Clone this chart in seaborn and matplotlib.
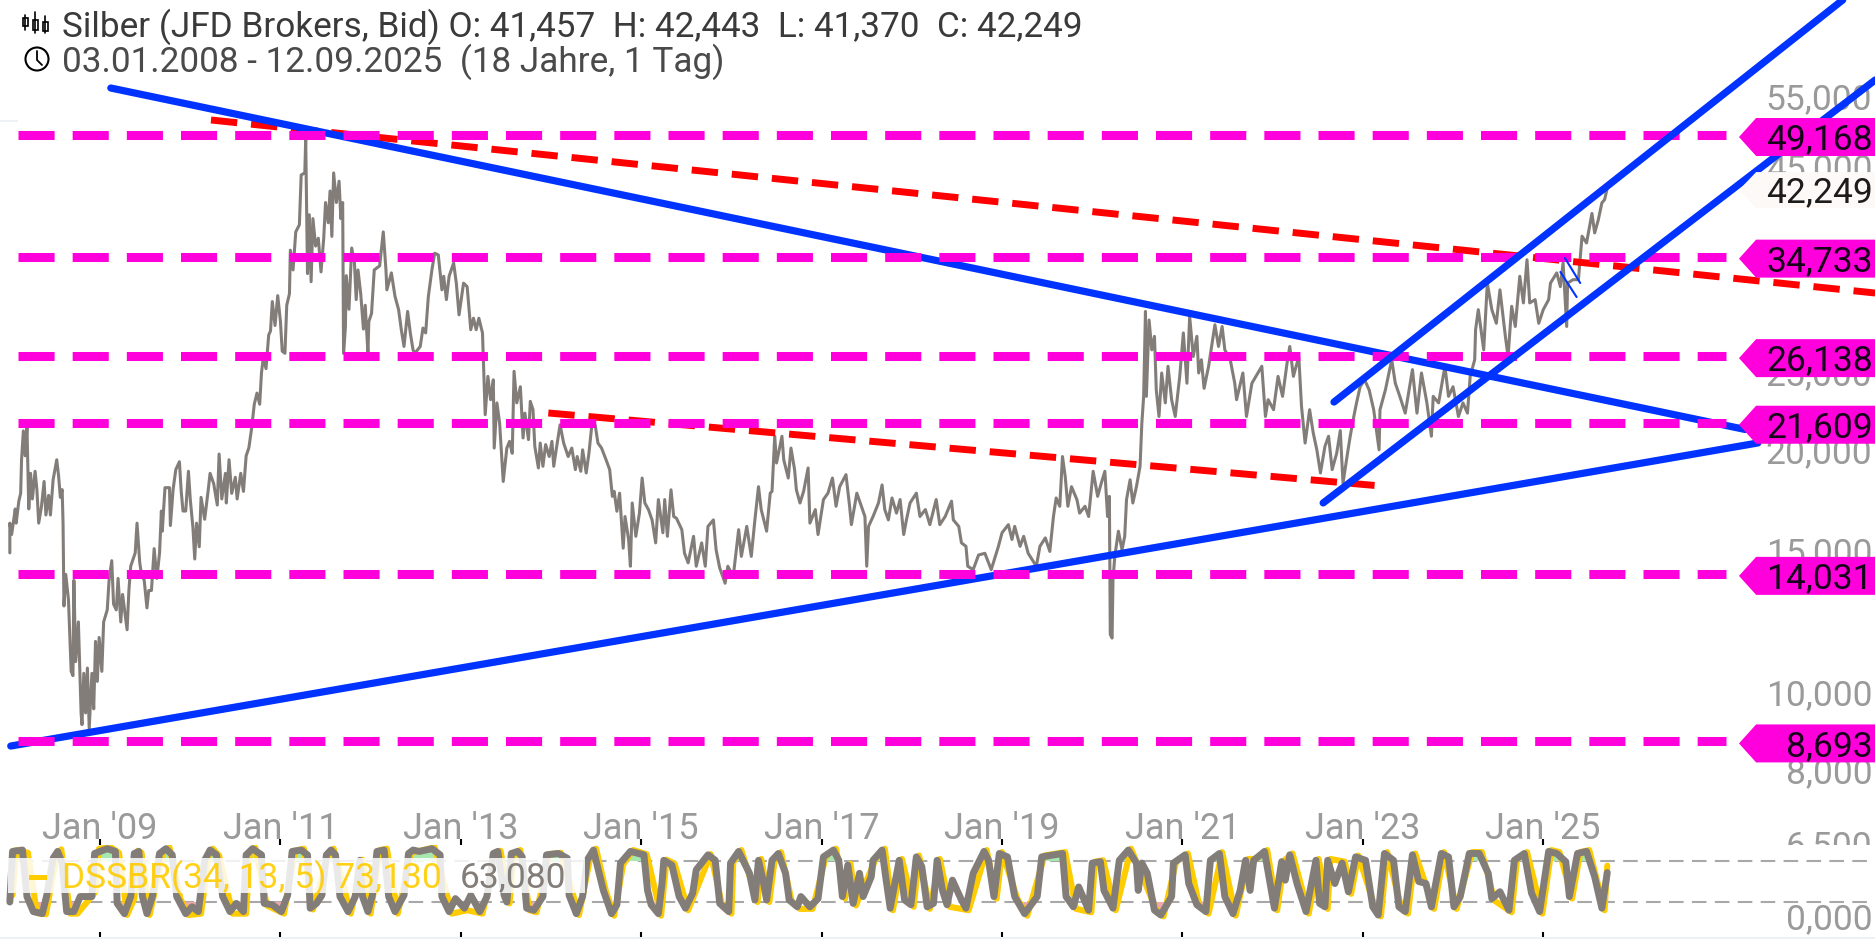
import numpy as np
import pandas as pd
import seaborn as sns
import matplotlib.pyplot as plt
from matplotlib.patches import Polygon, Rectangle, Ellipse
from matplotlib.lines import Line2D
from matplotlib.ticker import NullLocator

# Silber Tageschart, Werte
price_year = [
    2008.00, 2008.00, 2008.02, 2008.06, 2008.07, 2008.10, 2008.12, 2008.13, 2008.15, 2008.17, 2008.19, 2008.21, 2008.23, 2008.25, 2008.28, 2008.30,
    2008.32, 2008.35, 2008.38, 2008.40, 2008.43, 2008.45, 2008.48, 2008.52, 2008.54, 2008.56, 2008.58, 2008.59, 2008.60, 2008.62, 2008.65, 2008.68,
    2008.70, 2008.71, 2008.73, 2008.76, 2008.79, 2008.80, 2008.82, 2008.84, 2008.86, 2008.88, 2008.91, 2008.93, 2008.95, 2008.97, 2008.99, 2009.02,
    2009.04, 2009.08, 2009.10, 2009.13, 2009.15, 2009.18, 2009.20, 2009.23, 2009.25, 2009.30, 2009.32, 2009.34, 2009.39, 2009.41, 2009.44, 2009.46,
    2009.49, 2009.52, 2009.54, 2009.57, 2009.60, 2009.63, 2009.66, 2009.68, 2009.69, 2009.72, 2009.77, 2009.78, 2009.81, 2009.84, 2009.88, 2009.90,
    2009.92, 2009.95, 2009.98, 2010.00, 2010.03, 2010.05, 2010.07, 2010.10, 2010.12, 2010.16, 2010.20, 2010.22, 2010.26, 2010.30, 2010.32, 2010.35,
    2010.39, 2010.40, 2010.43, 2010.46, 2010.50, 2010.52, 2010.56, 2010.59, 2010.62, 2010.65, 2010.68, 2010.71, 2010.74, 2010.77, 2010.79, 2010.81,
    2010.84, 2010.87, 2010.89, 2010.91, 2010.94, 2010.97, 2011.00, 2011.02, 2011.05, 2011.07, 2011.10, 2011.11, 2011.14, 2011.17, 2011.21, 2011.23,
    2011.27, 2011.28, 2011.30, 2011.32, 2011.34, 2011.36, 2011.39, 2011.42, 2011.45, 2011.48, 2011.50, 2011.53, 2011.55, 2011.57, 2011.59, 2011.62,
    2011.65, 2011.67, 2011.69, 2011.70, 2011.72, 2011.73, 2011.76, 2011.79, 2011.82, 2011.84, 2011.86, 2011.89, 2011.92, 2011.94, 2011.97, 2011.98,
    2012.01, 2012.04, 2012.10, 2012.14, 2012.17, 2012.18, 2012.23, 2012.27, 2012.31, 2012.34, 2012.37, 2012.41, 2012.44, 2012.47, 2012.49, 2012.55,
    2012.58, 2012.61, 2012.64, 2012.68, 2012.71, 2012.75, 2012.79, 2012.81, 2012.84, 2012.87, 2012.92, 2012.95, 2012.98, 2013.03, 2013.07, 2013.11,
    2013.14, 2013.17, 2013.20, 2013.24, 2013.27, 2013.30, 2013.33, 2013.36, 2013.37, 2013.40, 2013.43, 2013.47, 2013.51, 2013.54, 2013.57, 2013.59,
    2013.62, 2013.66, 2013.69, 2013.71, 2013.75, 2013.77, 2013.80, 2013.82, 2013.86, 2013.88, 2013.91, 2013.94, 2013.98, 2014.01, 2014.03, 2014.06,
    2014.10, 2014.14, 2014.19, 2014.23, 2014.27, 2014.29, 2014.33, 2014.35, 2014.39, 2014.42, 2014.45, 2014.49, 2014.52, 2014.56, 2014.61, 2014.65,
    2014.68, 2014.70, 2014.73, 2014.76, 2014.80, 2014.82, 2014.86, 2014.88, 2014.90, 2014.94, 2014.98, 2015.01, 2015.04, 2015.08, 2015.12, 2015.16,
    2015.19, 2015.24, 2015.26, 2015.29, 2015.33, 2015.36, 2015.39, 2015.45, 2015.48, 2015.52, 2015.58, 2015.61, 2015.67, 2015.71, 2015.74, 2015.80,
    2015.83, 2015.87, 2015.93, 2015.96, 2016.02, 2016.08, 2016.11, 2016.17, 2016.22, 2016.26, 2016.30, 2016.33, 2016.39, 2016.43, 2016.45, 2016.48,
    2016.50, 2016.56, 2016.58, 2016.63, 2016.66, 2016.70, 2016.72, 2016.76, 2016.80, 2016.85, 2016.87, 2016.93, 2016.96, 2017.02, 2017.07, 2017.12,
    2017.16, 2017.20, 2017.27, 2017.31, 2017.33, 2017.39, 2017.44, 2017.48, 2017.50, 2017.52, 2017.57, 2017.63, 2017.67, 2017.70, 2017.74, 2017.78,
    2017.83, 2017.87, 2017.91, 2017.94, 2017.98, 2018.05, 2018.09, 2018.15, 2018.20, 2018.27, 2018.31, 2018.37, 2018.44, 2018.46, 2018.52, 2018.55,
    2018.60, 2018.62, 2018.68, 2018.74, 2018.81, 2018.88, 2018.96, 2019.00, 2019.07, 2019.11, 2019.14, 2019.20, 2019.24, 2019.29, 2019.38, 2019.42,
    2019.48, 2019.53, 2019.57, 2019.60, 2019.64, 2019.67, 2019.70, 2019.73, 2019.77, 2019.83, 2019.86, 2019.92, 2019.96, 2020.01, 2020.06, 2020.10,
    2020.14, 2020.17, 2020.19, 2020.20, 2020.22, 2020.23, 2020.25, 2020.29, 2020.33, 2020.36, 2020.38, 2020.42, 2020.45, 2020.49, 2020.53, 2020.55,
    2020.57, 2020.59, 2020.60, 2020.63, 2020.66, 2020.69, 2020.71, 2020.74, 2020.77, 2020.81, 2020.84, 2020.88, 2020.92, 2020.97, 2021.01, 2021.05,
    2021.08, 2021.12, 2021.16, 2021.18, 2021.21, 2021.24, 2021.29, 2021.36, 2021.40, 2021.44, 2021.47, 2021.53, 2021.58, 2021.60, 2021.67, 2021.71,
    2021.77, 2021.88, 2021.92, 2021.95, 2022.01, 2022.06, 2022.11, 2022.16, 2022.19, 2022.23, 2022.29, 2022.32, 2022.36, 2022.41, 2022.45, 2022.49,
    2022.53, 2022.58, 2022.62, 2022.66, 2022.71, 2022.75, 2022.78, 2022.83, 2022.86, 2022.90, 2022.93, 2022.97, 2023.02, 2023.07, 2023.12, 2023.18,
    2023.19, 2023.25, 2023.32, 2023.36, 2023.41, 2023.47, 2023.55, 2023.60, 2023.65, 2023.71, 2023.76, 2023.78, 2023.84, 2023.91, 2023.95, 2024.00,
    2024.06, 2024.11, 2024.16, 2024.19, 2024.24, 2024.25, 2024.28, 2024.34, 2024.38, 2024.43, 2024.48, 2024.52, 2024.58, 2024.61, 2024.65, 2024.69,
    2024.74, 2024.78, 2024.82, 2024.85, 2024.91, 2024.95, 2025.00, 2025.06, 2025.08, 2025.15, 2025.19, 2025.22, 2025.26, 2025.27, 2025.33, 2025.39,
    2025.43, 2025.48, 2025.54, 2025.57, 2025.61, 2025.65, 2025.68, 2025.71]
price_value = [
    14900, 16220, 15700, 16890, 16220, 17280, 17660, 19440, 21110, 19660, 21360, 16890, 18700, 17380, 18810, 17850,
    16220, 16990, 18270, 16600, 17560, 16600, 18360, 19440, 18590, 17460, 17850, 16220, 12800, 14010, 13030, 10620,
    10490, 13770, 10920, 12230, 9430, 9120, 10560, 9430, 10720, 9020, 10560, 9540, 11570, 10320, 11700, 10620,
    12230, 12660, 13770, 14570, 12870, 12660, 13850, 12230, 13230, 11960, 13380, 14340, 14900, 16220, 14490, 14010,
    13770, 12730, 13380, 13380, 15080, 13850, 14900, 16790, 15850, 17950, 17950, 16110, 17850, 18900, 19330, 17760,
    16790, 16790, 18810, 17380, 16010, 14640, 16220, 15160, 17460, 16400, 17850, 18700, 18160, 17080, 19760, 17380,
    18700, 17180, 19440, 17660, 18490, 17380, 18700, 17760, 19660, 20110, 21240, 22780, 23520, 22780, 24930, 26040,
    25220, 27770, 28090, 30550, 28530, 31070, 28850, 26510, 26350, 30230, 31240, 35380, 33440, 37280, 38040, 43860,
    44120, 48570, 33090, 39150, 32330, 38720, 35800, 36610, 33250, 36610, 40540, 38260, 41900, 36800, 44120, 40540,
    43090, 38720, 40540, 26350, 28370, 32900, 29880, 35600, 34210, 30720, 33440, 31240, 28240, 30230, 26350, 28850,
    29530, 33440, 33830, 37280, 33440, 31590, 33160, 31010, 29850, 28190, 26870, 29700, 27930, 26610, 26350, 26870,
    28320, 27930, 31010, 33480, 35070, 34910, 31590, 32840, 30720, 32840, 34110, 32200, 29410, 32200, 31880, 28190,
    29130, 28190, 29130, 27930, 22110, 24670, 23080, 24430, 20100, 22870, 21580, 18270, 20100, 20490, 19800, 25030,
    22870, 23950, 20690, 22210, 20590, 22970, 22430, 20200, 18990, 20390, 19080, 20300, 19620, 20490, 19080, 20100,
    21480, 20390, 19620, 20100, 18900, 19620, 18810, 20000, 18720, 19800, 21340, 21450, 20390, 20100, 19440, 18900,
    17510, 17760, 16780, 17670, 15100, 16530, 15480, 14340, 17180, 15620, 16690, 18450, 17180, 16860, 16370, 15330,
    17350, 15780, 17350, 15620, 17840, 16530, 16450, 15920, 14880, 14480, 15620, 14340, 15330, 14340, 16070, 16370,
    15030, 14270, 13660, 14340, 13930, 15920, 14750, 16070, 14750, 16370, 18000, 16860, 15850, 17670, 17760, 20790,
    19260, 20790, 19440, 18450, 20100, 18900, 17840, 17180, 17760, 18990, 16220, 16860, 15700, 17350, 17670, 18450,
    17020, 18000, 18630, 17020, 16150, 17670, 17020, 16530, 14340, 16070, 16530, 17180, 18090, 16860, 16370, 17430,
    16690, 17350, 15700, 16370, 17180, 17670, 16530, 16860, 16150, 17350, 16150, 16530, 17270, 16370, 16070, 15330,
    15180, 14340, 14200, 14810, 14880, 14200, 15180, 15780, 16150, 15480, 16070, 15180, 15620, 14880, 14340, 15180,
    15550, 14960, 16530, 17430, 17020, 19620, 18540, 17020, 18000, 17350, 16690, 17020, 16530, 18810, 17510, 18180,
    18810, 16530, 17510, 11800, 11680, 13800, 14750, 15850, 15030, 15620, 17350, 18360, 17180, 18000, 19080, 21580,
    23300, 29700, 23300, 28980, 26610, 27660, 23730, 22000, 24910, 22870, 25390, 23080, 22000, 24670, 27930, 24190,
    29270, 26110, 27660, 24910, 25870, 23840, 25390, 28590, 26870, 28450, 26610, 25870, 24190, 23080, 24910, 22000,
    24190, 25390, 22000, 23080, 22430, 24670, 23300, 25630, 26870, 24670, 26110, 22650, 20390, 22430, 20990, 20000,
    18720, 20200, 20790, 18900, 19800, 21130, 18180, 19800, 20790, 22000, 22870, 23950, 24430, 23730, 22430, 20000,
    22430, 23730, 25870, 24190, 23300, 22210, 25150, 22210, 24910, 22870, 20790, 23300, 22870, 25390, 23300, 23950,
    22000, 22870, 22210, 24670, 25870, 28190, 29850, 26610, 32200, 29850, 28710, 31590, 27660, 26110, 30140, 28450,
    32840, 30430, 34430, 30430, 30720, 28710, 29850, 30720, 32200, 33160, 31880, 34110, 28450, 32200, 32520, 32520,
    36820, 36120, 39300, 37170, 38570, 40500, 40880, 42249]

# DSSBR(34, 13, 5), graue Linie
osc_year = [
    2008.00, 2008.03, 2008.14, 2008.19, 2008.26, 2008.36, 2008.41, 2008.48, 2008.53, 2008.58, 2008.63, 2008.71, 2008.78, 2008.91, 2008.94, 2009.08,
    2009.17, 2009.19, 2009.27, 2009.34, 2009.38, 2009.43, 2009.47, 2009.52, 2009.58, 2009.66, 2009.73, 2009.80, 2009.85, 2009.95, 2010.02, 2010.09,
    2010.16, 2010.22, 2010.29, 2010.36, 2010.44, 2010.51, 2010.59, 2010.62, 2010.69, 2010.79, 2010.82, 2010.91, 2011.01, 2011.08, 2011.13, 2011.23,
    2011.30, 2011.33, 2011.40, 2011.46, 2011.51, 2011.56, 2011.61, 2011.66, 2011.75, 2011.83, 2011.88, 2011.91, 2011.97, 2012.02, 2012.07, 2012.15,
    2012.20, 2012.27, 2012.37, 2012.42, 2012.47, 2012.54, 2012.68, 2012.77, 2012.79, 2012.87, 2012.94, 2013.04, 2013.11, 2013.21, 2013.29, 2013.36,
    2013.41, 2013.48, 2013.51, 2013.56, 2013.63, 2013.68, 2013.73, 2013.81, 2013.91, 2013.95, 2014.08, 2014.18, 2014.20, 2014.28, 2014.35, 2014.40,
    2014.47, 2014.58, 2014.67, 2014.73, 2014.77, 2014.88, 2015.03, 2015.07, 2015.11, 2015.19, 2015.23, 2015.25, 2015.34, 2015.42, 2015.49, 2015.57,
    2015.61, 2015.74, 2015.82, 2015.87, 2015.97, 2015.99, 2016.08, 2016.20, 2016.26, 2016.30, 2016.35, 2016.39, 2016.45, 2016.52, 2016.60, 2016.64,
    2016.73, 2016.77, 2016.87, 2016.96, 2017.02, 2017.13, 2017.19, 2017.23, 2017.29, 2017.35, 2017.42, 2017.46, 2017.55, 2017.57, 2017.67, 2017.71,
    2017.76, 2017.86, 2017.92, 2017.99, 2018.05, 2018.11, 2018.17, 2018.24, 2018.28, 2018.34, 2018.39, 2018.45, 2018.55, 2018.60, 2018.68, 2018.80,
    2018.85, 2018.91, 2018.97, 2019.06, 2019.14, 2019.25, 2019.39, 2019.44, 2019.67, 2019.71, 2019.79, 2019.85, 2019.96, 2020.00, 2020.09, 2020.13,
    2020.23, 2020.30, 2020.40, 2020.49, 2020.51, 2020.55, 2020.61, 2020.69, 2020.76, 2020.88, 2020.90, 2021.03, 2021.07, 2021.16, 2021.26, 2021.31,
    2021.41, 2021.47, 2021.56, 2021.64, 2021.70, 2021.75, 2021.79, 2021.91, 2022.02, 2022.10, 2022.14, 2022.19, 2022.27, 2022.37, 2022.48, 2022.52,
    2022.58, 2022.61, 2022.69, 2022.77, 2022.84, 2022.92, 2023.03, 2023.11, 2023.17, 2023.24, 2023.34, 2023.40, 2023.47, 2023.55, 2023.62, 2023.70,
    2023.76, 2023.87, 2023.95, 2024.01, 2024.08, 2024.18, 2024.29, 2024.39, 2024.43, 2024.52, 2024.62, 2024.68, 2024.79, 2024.87, 2024.96, 2025.06,
    2025.15, 2025.25, 2025.29, 2025.38, 2025.48, 2025.57, 2025.65, 2025.71]
osc_value = [
    20, 94, 96, 28, 6, 3, 30, 84, 94, 77, 6, 6, 28, 28, 91, 98,
    94, 18, 3, 28, 91, 94, 28, 3, 28, 91, 98, 89, 28, 3, 13, 6,
    81, 96, 89, 28, 6, 18, 6, 89, 98, 89, 18, 16, 6, 30, 94, 96,
    89, 11, 18, 30, 89, 96, 89, 28, 6, 28, 81, 28, 6, 30, 94, 96,
    28, 6, 30, 91, 96, 94, 98, 89, 28, 6, 25, 11, 30, 6, 28, 91,
    94, 30, 20, 91, 94, 86, 11, 8, 28, 89, 91, 84, 30, 3, 28, 81,
    96, 37, 3, 16, 77, 94, 89, 37, 16, 3, 47, 81, 74, 28, 11, 33,
    67, 89, 81, 18, 6, 77, 94, 62, 23, 81, 52, 23, 81, 91, 62, 23,
    13, 28, 13, 25, 86, 96, 81, 28, 74, 18, 62, 28, 57, 81, 96, 57,
    11, 81, 23, 16, 86, 72, 13, 18, 81, 37, 16, 52, 23, 11, 62, 94,
    81, 28, 91, 86, 28, 3, 28, 86, 91, 28, 13, 42, 8, 77, 79, 37,
    11, 81, 96, 77, 37, 77, 62, 8, 1, 28, 77, 89, 47, 16, 6, 81,
    91, 28, 3, 37, 81, 37, 81, 94, 11, 79, 52, 89, 47, 6, 81, 18,
    13, 81, 47, 77, 35, 86, 81, 13, 1, 91, 81, 13, 6, 89, 50, 47,
    13, 91, 86, 13, 28, 91, 91, 62, 25, 35, 8, 81, 91, 33, 6, 94,
    91, 79, 28, 91, 94, 57, 11, 63.08]

# gelbe Linie
signal_year = [
    2008.03, 2008.07, 2008.20, 2008.30, 2008.40, 2008.52, 2008.57, 2008.67, 2008.75, 2008.95, 2008.99, 2009.12, 2009.21, 2009.30, 2009.38, 2009.42,
    2009.46, 2009.55, 2009.70, 2009.77, 2009.89, 2009.98, 2010.12, 2010.20, 2010.25, 2010.32, 2010.47, 2010.62, 2010.66, 2010.72, 2010.85, 2011.04,
    2011.16, 2011.26, 2011.36, 2011.54, 2011.59, 2011.78, 2011.91, 2012.00, 2012.10, 2012.18, 2012.30, 2012.45, 2012.71, 2012.90, 2013.07, 2013.24,
    2013.39, 2013.44, 2013.54, 2013.59, 2013.66, 2013.76, 2013.84, 2013.98, 2014.11, 2014.31, 2014.43, 2014.50, 2014.61, 2014.70, 2014.80, 2014.91,
    2015.06, 2015.22, 2015.28, 2015.37, 2015.52, 2015.77, 2015.90, 2016.00, 2016.02, 2016.11, 2016.29, 2016.33, 2016.42, 2016.48, 2016.55, 2016.67,
    2016.76, 2016.90, 2017.05, 2017.16, 2017.26, 2017.32, 2017.38, 2017.60, 2017.70, 2017.79, 2017.89, 2018.02, 2018.08, 2018.20, 2018.31, 2018.42,
    2018.63, 2018.83, 2018.94, 2019.00, 2019.17, 2019.28, 2019.47, 2019.70, 2019.82, 2019.99, 2020.03, 2020.12, 2020.26, 2020.43, 2020.72, 2020.79,
    2020.93, 2021.06, 2021.19, 2021.29, 2021.44, 2021.59, 2021.73, 2021.82, 2021.94, 2022.05, 2022.13, 2022.22, 2022.40, 2022.51, 2022.61, 2022.64,
    2022.80, 2022.87, 2022.95, 2023.14, 2023.20, 2023.27, 2023.43, 2023.50, 2023.58, 2023.79, 2023.90, 2024.04, 2024.21, 2024.32, 2024.46, 2024.65,
    2024.71, 2024.82, 2024.99, 2025.09, 2025.18, 2025.32, 2025.41, 2025.51, 2025.68, 2025.71]
signal_value = [
    30, 96, 92, 4, 2, 88, 97, 3, 3, 35, 98, 100, 92, 1, 25, 95,
    92, 1, 92, 100, 25, 1, 3, 85, 98, 88, 3, 3, 92, 100, 15, 3,
    95, 98, 9, 92, 98, 3, 82, 3, 96, 98, 3, 92, 100, 3, 8, 3,
    92, 95, 18, 92, 96, 8, 5, 90, 92, 1, 82, 98, 35, 0, 75, 96,
    90, 0, 82, 76, 8, 90, 14, 3, 78, 96, 20, 83, 20, 83, 93, 20,
    10, 10, 88, 98, 25, 76, 15, 83, 98, 8, 83, 13, 88, 10, 83, 13,
    8, 96, 25, 93, 25, 0, 88, 93, 10, 5, 79, 81, 8, 98, 5, -1,
    79, 91, 13, 3, 93, 0, 83, 83, 96, 8, 81, 91, 3, 83, 10, 83,
    79, 32, 88, 10, -1, 93, 10, 3, 91, 10, 93, 10, 93, 93, 22, 5,
    83, 93, 3, 96, 93, 25, 93, 96, 8, 73.13]

levels = [49168, 34733, 26138, 21609, 14031, 8693]
level_labels = ["49,168", "34,733", "26,138", "21,609", "14,031", "8,693"]
last_price = 42249
last_label = "42,249"

# Trendlinien: Jahr und Kurs der Endpunkte
falling_year = [2009.12, 2027.24]
falling_price = [56230, 21195]
rising_year = [2008.01, 2027.38]
rising_price = [8579, 20396]
channel_top_year = [2022.68, 2028.32]
channel_top_price = [22925, 72312]
channel_low_year = [2022.56, 2028.68]
channel_low_price = [17183, 57538]
red_long_year = [2010.23, 2028.68]
red_long_price = [51322, 31304]
red_short_year = [2013.97, 2023.13]
red_short_price = [22219, 18064]
thin_a_year = [2025.24, 2025.41]
thin_a_price = [34600, 32215]
thin_b_year = [2025.19, 2025.37]
thin_b_price = [33243, 30946]

price_ticks = [55000, 45000, 25000, 20000, 15000, 10000, 8000, 6500]
price_tick_labels = ["55,000", "45,000", "25,000", "20,000", "15,000", "10,000", "8,000", "6,500"]
year_ticks = [2009, 2011, 2013, 2015, 2017, 2019, 2021, 2023, 2025]
year_labels = ["Jan '09", "Jan '11", "Jan '13", "Jan '15", "Jan '17", "Jan '19", "Jan '21", "Jan '23", "Jan '25"]

sns.set_theme(style="white")
plt.rcParams['font.family'] = ['Roboto', 'DejaVu Sans']

W, H = 1875, 939
GRAU = "#837d79"
BLAU = "#0033ff"
MAGENTA = "#ff00dc"
ROT = "#ff0000"
GELB = "#ffcc00"
TICKFARBE = "#9a9a9a"

fig = plt.figure(figsize=(W / 100, H / 100), dpi=100)
ax = fig.add_axes([0, 94 / H, 1, 845 / H])
osc = fig.add_axes([0, 0, 1, 94 / H])

xlim = (2007.891, 2028.678)

ax.set_yscale("log")
ax.set_xlim(xlim)
ax.set_ylim(6466, 72312)

# Kurs
sns.lineplot(x=price_year, y=price_value, ax=ax, color=GRAU, linewidth=2.2,
             estimator=None, sort=False, zorder=2)

# Trendlinien
sns.lineplot(x=red_long_year, y=red_long_price, ax=ax, color=ROT, linewidth=5.0,
             estimator=None, sort=False, zorder=3, linestyle=(0, (3.8, 2.0)))
sns.lineplot(x=red_short_year, y=red_short_price, ax=ax, color=ROT, linewidth=5.0,
             estimator=None, sort=False, zorder=3, linestyle=(0, (3.8, 2.0)))
for xs, ys, z in [(falling_year, falling_price, 3.1), (rising_year, rising_price, 3.1),
                  (channel_top_year, channel_top_price, 3.5), (channel_low_year, channel_low_price, 3.5)]:
    sns.lineplot(x=xs, y=ys, ax=ax, color=BLAU, linewidth=5.2, estimator=None, sort=False, zorder=z)
for xs, ys in [(thin_a_year, thin_a_price), (thin_b_year, thin_b_price)]:
    sns.lineplot(x=xs, y=ys, ax=ax, color=BLAU, linewidth=1.5, estimator=None, sort=False, zorder=3.5)

# waagerechte Niveaus mit Preisschild
tip, schulter, rechts = 2027.17, 2027.36, xlim[1]
for lev, lab in zip(levels, level_labels):
    ax.plot([2008.09, 2027.03], [lev, lev], color=MAGENTA, lw=6.5, zorder=3.2,
            linestyle=(0, (4, 2)), dash_capstyle="butt")
    mitte = lev * np.exp(-2 / 350)
    halb = np.exp(19 / 350)
    ax.add_patch(Polygon([(tip, mitte), (schulter, mitte * halb), (rechts, mitte * halb),
                          (rechts, mitte / halb), (schulter, mitte / halb)],
                         closed=True, facecolor=MAGENTA, edgecolor="none", zorder=5))
    ax.text(2028.655, lev * np.exp(-5 / 350), lab, ha="right", va="center", fontsize=25.5,
            color="#16001a", zorder=6)

mitte = last_price * np.exp(-2 / 350)
halb = np.exp(18 / 350)
ax.add_patch(Polygon([(tip, mitte), (schulter, mitte * halb), (rechts, mitte * halb),
                      (rechts, mitte / halb), (schulter, mitte / halb)],
                     closed=True, facecolor="#fdf9f6", edgecolor="none", zorder=5))
ax.text(2028.655, last_price * np.exp(-5 / 350), last_label, ha="right", va="center", fontsize=25.5,
        color="#1c1c1c", zorder=6)

# Achsen oben
ax.yaxis.tick_right()
ax.set_yticks(price_ticks)
ax.set_yticklabels(price_tick_labels)
ax.yaxis.set_minor_locator(NullLocator())
ax.tick_params(axis="y", length=0, pad=-2, labelsize=25.5, labelcolor=TICKFARBE)
for t in ax.get_yticklabels():
    t.set_ha("right")
ax.set_xticks(year_ticks)
ax.set_xticklabels(year_labels)
ax.tick_params(axis="x", direction="in", length=4, width=1.5, color="black", pad=1.6,
               labelsize=26, labelcolor=TICKFARBE, bottom=True)
for t in ax.get_xticklabels():
    t.set_va("bottom")
sns.despine(ax=ax, left=True, right=True, top=True, bottom=True)
ax.set_xlabel("")
ax.set_ylabel("")

# Oszillator
osc.set_xlim(xlim)
osc.set_ylim(-34.1, 103.4)
osc.set_facecolor("white")
for lev in [20, 80]:
    osc.plot([2008.10, xlim[1]], [lev, lev], color="#a8a8a8", lw=1.5, linestyle=(0, (7, 4)), zorder=1)
ox = np.array(osc_year)
oy = np.array(osc_value, dtype=float)
osc.fill_between(ox, oy, 80, where=oy > 80, interpolate=True, color="#a6e8b0", lw=0, zorder=1.5)
osc.fill_between(ox, oy, 20, where=oy < 20, interpolate=True, color="#f0a8a8", lw=0, zorder=1.5)
sns.lineplot(x=signal_year, y=signal_value, ax=osc, color=GELB, linewidth=4.4,
             estimator=None, sort=False, zorder=2)
sns.lineplot(x=osc_year, y=osc_value, ax=osc, color=GRAU, linewidth=5.0,
             estimator=None, sort=False, zorder=3)
osc.yaxis.tick_right()
osc.set_yticks([0])
osc.set_yticklabels(["0,000"])
osc.tick_params(axis="y", length=0, pad=-2, labelsize=25.5, labelcolor=TICKFARBE)
for t in osc.get_yticklabels():
    t.set_ha("right")
osc.set_xticks(year_ticks)
osc.set_xticklabels([])
osc.tick_params(axis="x", direction="in", length=5, width=1.5, color="black", bottom=True)
sns.despine(ax=osc, left=True, right=True, bottom=True)
osc.spines["top"].set_linewidth(2.5)
osc.spines["top"].set_color("black")
osc.set_xlabel("")
osc.set_ylabel("")


def px(x, y):
    return x / W, 1 - y / H


def fig_rect(x0, y0, x1, y1, **kw):
    fig.add_artist(Rectangle(px(x0, y1), (x1 - x0) / W, (y1 - y0) / H,
                             transform=fig.transFigure, **kw))


# Legende vom Oszillator
fig_rect(8, 858, 585, 893, facecolor="white", edgecolor="none", alpha=0.84)
fig_rect(29, 875, 47, 880, facecolor=GELB, edgecolor="none")
fig.text(*px(62, 878), "DSSBR(34, 13, 5) 73,130", fontsize=25.5, color=GELB, va="center", alpha=0.9)
fig.text(*px(460, 878), "63,080", fontsize=25.5, color=GRAU, va="center")
fig_rect(0, 937, W, 939, facecolor="#edf1f5", edgecolor="none")
fig_rect(0, 120, 18, 122, facecolor="#eef1f5", edgecolor="none")

# Kopfzeile
fig.text(*px(62, 27), "Silber (JFD Brokers, Bid) O: 41,457  H: 42,443  L: 41,370  C: 42,249",
         fontsize=25.3, color="#3a3a3a", va="center")
fig.text(*px(62, 62), "03.01.2008 - 12.09.2025  (18 Jahre, 1 Tag)",
         fontsize=25.3, color="#4a4a4a", va="center")

# kleine Symbole
for x, y0, y1, b0, b1 in [(25, 15, 30, 18, 26), (35, 12, 33, 20, 30), (45, 16, 33, 22, 31)]:
    fig.add_artist(Line2D([x / W, x / W], [1 - y0 / H, 1 - y1 / H], color="black", lw=1.2,
                          transform=fig.transFigure))
    fig_rect(x - 2.5, b0, x + 2.5, b1, facecolor="white", edgecolor="black", lw=1.2)
fig.add_artist(Ellipse(px(37, 59), 23 / W, 23 / H, transform=fig.transFigure,
                       facecolor="none", edgecolor="black", lw=1.5))
fig.add_artist(Line2D([37 / W, 37 / W, 42 / W], [1 - 51 / H, 1 - 60 / H, 1 - 65 / H], color="black",
                      lw=1.3, transform=fig.transFigure))

fig.savefig("out.png", dpi=100, facecolor="white")
